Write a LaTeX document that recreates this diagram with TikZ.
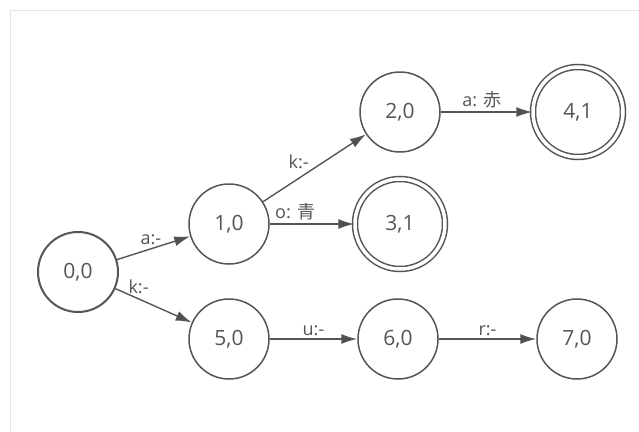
\documentclass[tikz,border=0pt]{standalone}
\usepackage{fontspec}
\setmainfont{Open Sans}
\newfontfamily\cjk{Noto Sans CJK JP}
\usetikzlibrary{arrows.meta}
\definecolor{ink}{HTML}{555555}
\definecolor{tip}{HTML}{4A5249}
\begin{document}
\begin{tikzpicture}[x=1pt,y=-1pt,
  state/.style={circle,draw=ink,line width=1.5pt,minimum size=80pt,inner sep=0pt,
    text=ink,font=\fontsize{21}{21}\selectfont},
  final/.style={state,double=white,double distance=3.5pt,minimum size=90pt},
  start/.style={state,line width=2pt},
  trans/.style={draw=ink,line width=1.4pt,-{Latex[length=16pt,width=10pt,fill=tip]}},
  lbl/.style={text=ink,font=\fontsize{18}{18}\selectfont,inner sep=2pt}]
\useasboundingbox (0,0) rectangle (639,431);
\fill[white] (0,0) rectangle (639,431);
% faint page frame
\draw[gray!22,line width=0.6pt] (10,431) -- (10,10) -- (639,10);

\node[start] (s00) at (78,272) {0,0};
\node[state] (s10) at (229,224) {1,0};
\node[state] (s20) at (400,112) {2,0};
\node[final] (s31) at (400,224) {3,1};
\node[final] (s41) at (578,112) {4,1};
\node[state] (s50) at (229,339) {5,0};
\node[state] (s60) at (398,339) {6,0};
\node[state] (s70) at (577,339) {7,0};

\draw[trans] (s00) -- node[lbl,pos=0.45,anchor=south east,xshift=14pt,yshift=2pt] {a:-} (s10);
\draw[trans] (s00) -- node[lbl,pos=0.25,anchor=south,xshift=4pt,yshift=1pt] {k:-} (s50);
\draw[trans] (s10) -- node[lbl,pos=0.45,anchor=south east,xshift=2pt] {k:-} (s20);
\draw[trans] (s10) -- node[lbl,pos=0.3,anchor=south,yshift=1pt] {o: {\cjk 青}} (s31);
\draw[trans] (s20) -- node[lbl,pos=0.45,anchor=south,yshift=1pt] {a: {\cjk 赤}} (s41);
\draw[trans] (s50) -- node[lbl,pos=0.5,anchor=south,yshift=1pt] {u:-} (s60);
\draw[trans] (s60) -- node[lbl,pos=0.5,anchor=south,yshift=1pt] {r:-} (s70);
\end{tikzpicture}
\end{document}
